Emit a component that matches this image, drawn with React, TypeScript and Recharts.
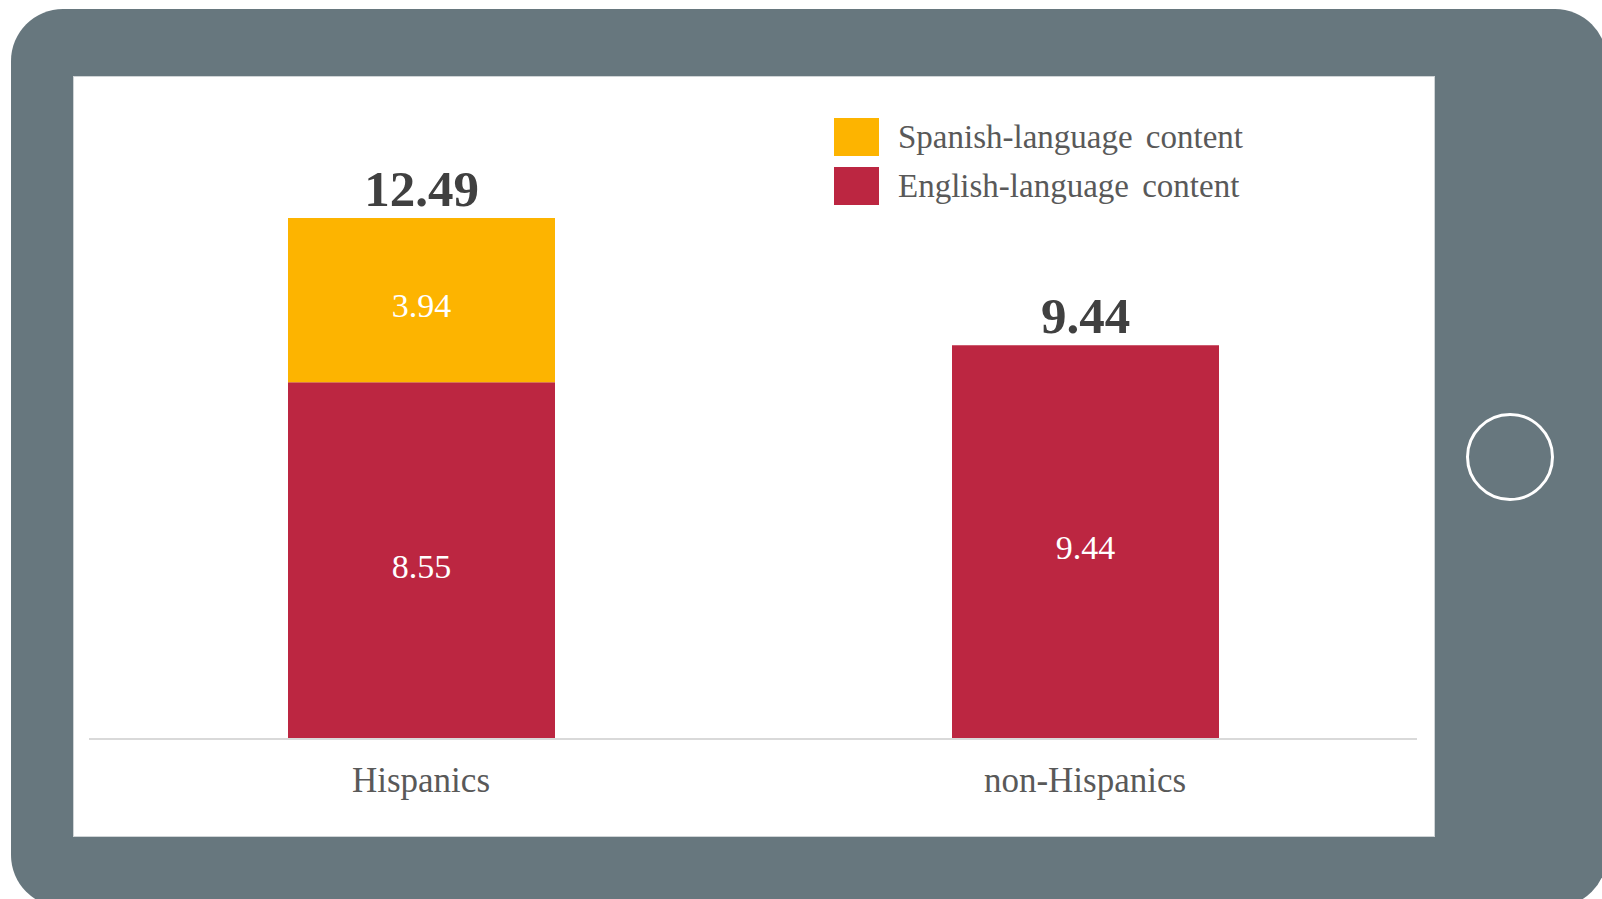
import React from "react";
import { BarChart, Bar, XAxis, YAxis, LabelList, Legend } from "recharts";

const categories = ["Hispanics", "non-Hispanics"];
const englishValues = [8.55, 9.44];
const spanishValues = [3.94, 0];
const totalValues = [12.49, 9.44];
const seriesNames = { spanish: "Spanish-language content", english: "English-language content" };

const ORANGE = "#FDB400";
const RED = "#BC2641";
const FRAME = "#67777E";
const FONT = "'Liberation Serif', 'Times New Roman', serif";

const data = categories.map((c, i) => ({
  name: c,
  english: englishValues[i],
  spanish: spanishValues[i],
  totalOnSpanish: spanishValues[i] > 0 ? totalValues[i] : null,
  totalOnEnglish: spanishValues[i] > 0 ? null : totalValues[i],
}));

const InnerLabel = (props: any) => {
  const { x, y, width, height, value } = props;
  if (!value) return null;
  const cx = Number(x) + Number(width) / 2;
  const cy = Number(y) + Number(height) / 2;
  return (
    <text x={cx} y={cy + 17} textAnchor="middle" fill="#ffffff" fontFamily={FONT} fontSize={34}>
      {Number(value).toFixed(2)}
    </text>
  );
};

const TotalLabel = (props: any) => {
  const { x, y, width, value } = props;
  if (value == null || value === "") return null;
  const cx = Number(x) + Number(width) / 2;
  return (
    <text x={cx} y={Number(y) - 12} textAnchor="middle" fill="#404040" fontFamily={FONT} fontWeight="bold" fontSize={51}>
      {Number(value).toFixed(2)}
    </text>
  );
};

const CategoryTick = (props: any) => {
  const { x, y, payload } = props;
  return (
    <text x={x} y={Number(y) + 53} textAnchor="middle" fill="#595959" fontFamily={FONT} fontSize={35}>
      {payload.value}
    </text>
  );
};

const LegendContent = (props: any) => {
  const payload = (props.payload || []).slice().reverse();
  return (
    <div>
      {payload.map((p: any) => (
        <div key={p.value} style={{ display: "flex", alignItems: "center", height: 49 }}>
          <div style={{ width: 45, height: 38, background: p.color, flex: "none" }} />
          <div
            style={{
              marginLeft: 19,
              fontFamily: FONT,
              fontSize: 33,
              color: "#595959",
              wordSpacing: 5,
              whiteSpace: "nowrap",
              lineHeight: "38px",
            }}
          >
            {p.value}
          </div>
        </div>
      ))}
    </div>
  );
};

export default function App() {
  return (
    <div style={{ position: "fixed", left: 0, top: 0, width: 1602, height: 899, overflow: "hidden", background: "#ffffff" }}>
      <div
        style={{
          position: "absolute",
          left: 11,
          top: 9,
          width: 1596,
          height: 898,
          borderRadius: 52,
          background: FRAME,
        }}
      />
      <div
        style={{
          position: "absolute",
          left: 1510 - 44,
          top: 457 - 44,
          width: 88,
          height: 88,
          boxSizing: "border-box",
          borderRadius: "50%",
          border: "3px solid #ffffff",
        }}
      />
      <div
        style={{
          position: "absolute",
          left: 73,
          top: 76,
          width: 1362,
          height: 761,
          background: "#ffffff",
          boxSizing: "border-box",
          border: "1px solid #cfd4d6",
        }}
      />
      <div style={{ position: "absolute", left: 73, top: 76 }}>
        <BarChart width={1362} height={761} data={data} margin={{ top: 79, right: 18, left: 16, bottom: 38 }}>
          <XAxis
            dataKey="name"
            height={60}
            axisLine={{ stroke: "#d9d9d9", strokeWidth: 2 }}
            tickLine={false}
            tickSize={0}
            tickMargin={0}
            tick={<CategoryTick />}
            interval={0}
          />
          <YAxis hide domain={[0, 14]} />
          <Legend
            layout="vertical"
            align="center"
            verticalAlign="middle"
            content={<LegendContent />}
            wrapperStyle={{ left: 761, top: 36, width: 480 }}
          />
          <Bar dataKey="english" name={seriesNames.english} stackId="a" fill={RED} barSize={267} isAnimationActive={false}>
            <LabelList dataKey="english" content={<InnerLabel />} />
            <LabelList dataKey="totalOnEnglish" content={<TotalLabel />} />
          </Bar>
          <Bar dataKey="spanish" name={seriesNames.spanish} stackId="a" fill={ORANGE} barSize={267} isAnimationActive={false}>
            <LabelList dataKey="spanish" content={<InnerLabel />} />
            <LabelList dataKey="totalOnSpanish" content={<TotalLabel />} />
          </Bar>
        </BarChart>
      </div>
    </div>
  );
}
